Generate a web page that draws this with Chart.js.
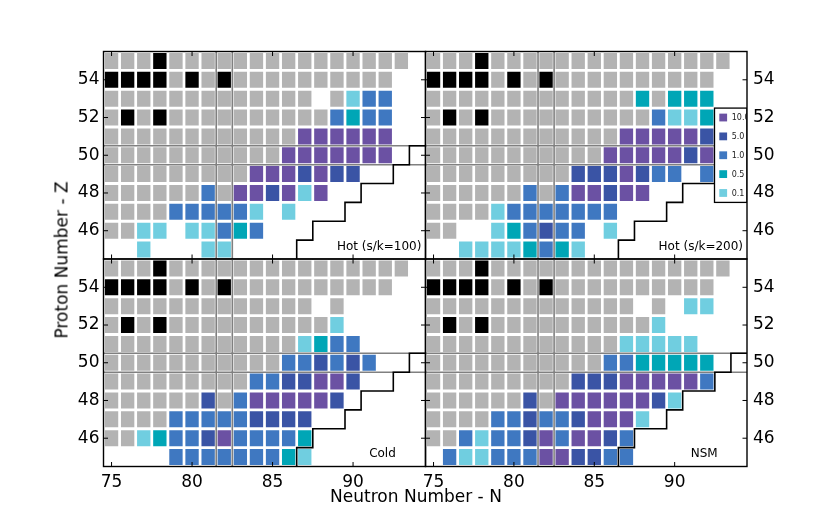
<!DOCTYPE html>
<html>
<head>
<meta charset="utf-8">
<script src="https://cdn.jsdelivr.net/npm/chart.js@4.4.1/dist/chart.umd.min.js"></script>
<style>
  body { margin: 0; background: #fff; }
  #wrap { position: relative; width: 830px; height: 519px; font-family: "DejaVu Sans", sans-serif; }
  #wrap canvas { position: absolute; left: 0; top: 0; }
  .axis-title { position: absolute; font-size: 17px; line-height: 17px; color: #000; white-space: nowrap; }
  #xTitle { left: 416px; top: 487.6px; transform: translateX(-50%); }
  #yTitle { left: 62.4px; top: 260px; transform: translate(-50%, -50%) rotate(-90deg); }
</style>
</head>
<body>
<div id="wrap">
  <canvas id="hot100" width="830" height="519"></canvas>
  <canvas id="hot200" width="830" height="519"></canvas>
  <canvas id="cold" width="830" height="519"></canvas>
  <canvas id="nsm" width="830" height="519"></canvas>
  <div class="axis-title" id="xTitle">Neutron Number - N</div>
  <div class="axis-title" id="yTitle">Proton Number - Z</div>
</div>
<script>
// columns N = 75..94, rows Z = 55..45 (top to bottom)
const neutrons = [75, 76, 77, 78, 79, 80, 81, 82, 83, 84, 85, 86, 87, 88, 89, 90, 91, 92, 93, 94];
const protons = [55, 54, 53, 52, 51, 50, 49, 48, 47, 46, 45];
const neutronTicks = [75, 80, 85, 90];
const protonTicks = [46, 48, 50, 52, 54];
const legendLabels = ['10.0', '5.0', '1.0', '0.5', '0.1'];
const legendCodes = ['p', 'd', 'b', 't', 'c'];
// neutron drip line (staircase)
const dripN = [86.5, 86.5, 87.5, 87.5, 89.5, 89.5, 90.5, 90.5, 92.5, 92.5, 93.5, 93.5, 94.5];
const dripZ = [44.5, 45.5, 45.5, 46.5, 46.5, 47.5, 47.5, 48.5, 48.5, 49.5, 49.5, 50.5, 50.5];
// closed shells N=82, Z=50
const shellN = [81.5, 82.5];
const shellZ = [49.5, 50.5];

// g gray, k black (stable), p 10.0, d 5.0, b 1.0, t 0.5, c 0.1, . none
const hot100 = [
  'gggkg ggggg ggggg gggg.',
  'kkkkg kgkgg ggggg ggg..',
  'ggggg ggggg ggg.g cbb..',
  'gkgkg ggggg ggggb tbb..',
  'ggggg ggggg ggppp ppp..',
  'ggggg ggggg gpppp ppp..',
  'ggggg ggggp ppdpd d....',
  'ggggg gbgpp dpcp. .....',
  'ggggb bbbbc .c... .....',
  'ggcc. ccbtb ..... .....',
  '..c.. .cc.. ..... .....'
];
const hot200 = [
  'gggkg ggggg ggggg gggg.',
  'kkkkg kgkgg ggggg ggg..',
  'ggggg ggggg gggtg ttt..',
  'gkgkg ggggg ggggb cct..',
  'ggggg ggggg ggppp ppd..',
  'ggggg ggggg gpppp pdp..',
  'ggggg ggggd ddpdb b.b..',
  'ggggg gbgbp pdpp. .....',
  'ggggc bbbbb bb... .....',
  'gg..c tbdbb .c... .....',
  '..ccc ctbtc ..... .....'
];
const cold = [
  'gggkg ggggg ggggg gggg.',
  'kkkkg kgkgg ggggg ggg..',
  'ggggg ggggg ggg.g .....',
  'gkgkg ggggg ggggc .....',
  'ggggg ggggg ggctb b....',
  'ggggg ggggg gbbdb db...',
  'ggggg ggggb bddpp d....',
  'ggggg gdgbp ppppd .....',
  'ggggb bbbbd ddd.. .....',
  'ggctb bdpbb bbt.. .....',
  '....b bbbbb btc.. .....'
];
const nsm = [
  'gggkg ggggg ggggg gggg.',
  'kkkkg kgkgg ggggg ggg..',
  'ggggg ggggg ggg.g .cc..',
  'gkgkg ggggg ggggc .....',
  'ggggg ggggg ggccc cc...',
  'ggggg ggggg gbbtt ttt..',
  'ggggg ggggd ddppp ppb..',
  'ggggg gdgpp ppppd c....',
  'ggggb bdbbd pppc. .....',
  'ggbcb bdpbp pdb.. .....',
  '.bccb bbppd dbb.. .....'
];

const cellColors = {
  g: '#b3b3b3',
  k: '#000000',
  p: '#6b51a3',
  d: '#3a54a5',
  b: '#3f78c1',
  t: '#00a6b6',
  c: '#70cee0'
};

const FONT = 'DejaVu Sans';

function cellDatasets(rows) {
  return Object.keys(cellColors).map(code => {
    const data = [];
    rows.forEach((row, r) => {
      [...row.replace(/ /g, '')].forEach((ch, c) => {
        if (ch === code) {
          data.push({ x: neutrons[c], y: [protons[r] - 0.46, protons[r] + 0.46] });
        }
      });
    });
    return {
      type: 'bar',
      data: data,
      backgroundColor: cellColors[code],
      borderColor: 'rgba(255,255,255,0.3)',
      borderWidth: 1,
      borderSkipped: false,
      barThickness: 14.7,
      grouped: false,
      order: 3
    };
  });
}

function lineDatasets() {
  const sets = [];
  shellN.forEach(n => sets.push({ type: 'line', data: [{ x: n, y: 44.5 }, { x: n, y: 55.5 }] }));
  shellZ.forEach(z => sets.push({ type: 'line', data: [{ x: 74.5, y: z }, { x: 94.5, y: z }] }));
  sets.forEach(s => Object.assign(s, { borderColor: '#808080', borderWidth: 1.6, pointRadius: 0, order: 2 }));
  sets.push({
    type: 'line',
    data: dripN.map((n, i) => ({ x: n, y: dripZ[i] })),
    borderColor: '#000',
    borderWidth: 1.6,
    pointRadius: 0,
    order: 1
  });
  return sets;
}

// inward ticks, frame, legend box and panel label
function panelDecor(p) {
  return {
    id: 'decor_' + p.id,
    afterDraw(chart) {
      const { ctx, chartArea: a, scales: { x, y } } = chart;
      ctx.save();
      ctx.strokeStyle = '#000';
      ctx.lineWidth = 1;
      ctx.beginPath();
      neutronTicks.forEach(v => {
        const px = x.getPixelForValue(v);
        ctx.moveTo(px, a.bottom); ctx.lineTo(px, a.bottom - 4.5);
        ctx.moveTo(px, a.top); ctx.lineTo(px, a.top + 4.5);
      });
      protonTicks.forEach(v => {
        const py = y.getPixelForValue(v);
        ctx.moveTo(a.left, py); ctx.lineTo(a.left + 4.5, py);
        ctx.moveTo(a.right, py); ctx.lineTo(a.right - 4.5, py);
      });
      ctx.stroke();

      if (p.legend) {
        ctx.save();
        ctx.beginPath();
        ctx.rect(a.left, a.top, a.width, a.height);
        ctx.clip();
        const bx = a.right - 32.5;
        const bt = y.getPixelForValue(52.5);
        const bb = y.getPixelForValue(47.5);
        ctx.fillStyle = '#fff';
        ctx.fillRect(bx, bt, a.right - bx, bb - bt);
        ctx.lineWidth = 1.3;
        ctx.strokeRect(bx, bt, a.right - bx, bb - bt);
        ctx.font = '8px "' + FONT + '"';
        ctx.textAlign = 'left';
        ctx.textBaseline = 'middle';
        legendLabels.forEach((lab, i) => {
          const cy = y.getPixelForValue(52 - i);
          ctx.fillStyle = cellColors[legendCodes[i]];
          ctx.fillRect(bx + 4.8, cy - 3.9, 7.8, 7.8);
          ctx.fillStyle = '#222';
          ctx.fillText(lab, bx + 17.2, cy + 0.5);
        });
        ctx.restore();
      }

      ctx.lineWidth = 1.4;
      ctx.strokeRect(a.left, a.top, a.width, a.height);

      ctx.fillStyle = '#000';
      ctx.font = '12px "' + FONT + '"';
      ctx.textAlign = 'left';
      ctx.textBaseline = 'alphabetic';
      ctx.fillText(p.note, x.getPixelForValue(p.noteN), y.getPixelForValue(45));
      ctx.restore();
    }
  };
}

const panels = [
  { id: 'hot100', rows: hot100, note: 'Hot (s/k=100)', noteN: 89, left: true, bottom: false, legend: false },
  { id: 'hot200', rows: hot200, note: 'Hot (s/k=200)', noteN: 89, left: false, bottom: false, legend: true },
  { id: 'cold', rows: cold, note: 'Cold', noteN: 91, left: true, bottom: true, legend: false },
  { id: 'nsm', rows: nsm, note: 'NSM', noteN: 91, left: false, bottom: true, legend: false }
];

panels.forEach(p => {
  const L = p.left ? 103.5 : 425.5;
  const R = p.left ? 425.5 : 747;
  const T = p.bottom ? 259 : 51.5;
  const B = p.bottom ? 466.5 : 259;
  const yW = 40, xH = 40;
  const padding = {
    left: p.left ? L - yW : L,
    right: p.left ? 830 - R : 830 - R - yW,
    top: T,
    bottom: p.bottom ? 519 - B - xH : 519 - B
  };
  const tickFont = { family: FONT, size: 17 };

  new Chart(document.getElementById(p.id), {
    type: 'bar',
    data: { datasets: [...lineDatasets(), ...cellDatasets(p.rows)] },
    options: {
      responsive: false,
      animation: false,
      layout: { padding: padding },
      plugins: { legend: { display: false }, tooltip: { enabled: false } },
      scales: {
        x: {
          type: 'linear', min: 74.5, max: 94.5, offset: false,
          display: p.bottom,
          grid: { display: false, drawTicks: false },
          border: { display: false },
          ticks: { color: '#000', font: tickFont, padding: 6, maxRotation: 0, autoSkip: false },
          afterBuildTicks: s => { s.ticks = neutronTicks.map(v => ({ value: v })); },
          afterFit: s => { s.height = p.bottom ? xH : 0; s.paddingLeft = 0; s.paddingRight = 0; }
        },
        y: {
          type: 'linear', min: 44.5, max: 55.5,
          position: p.left ? 'left' : 'right',
          grid: { display: false, drawTicks: false },
          border: { display: false },
          ticks: { color: '#000', font: tickFont, padding: p.left ? 4 : 6, autoSkip: false },
          afterBuildTicks: s => { s.ticks = protonTicks.map(v => ({ value: v })); },
          afterFit: s => { s.width = yW; s.paddingTop = 0; s.paddingBottom = 0; }
        }
      }
    },
    plugins: [panelDecor(p)]
  });
});
</script>
</body>
</html>
